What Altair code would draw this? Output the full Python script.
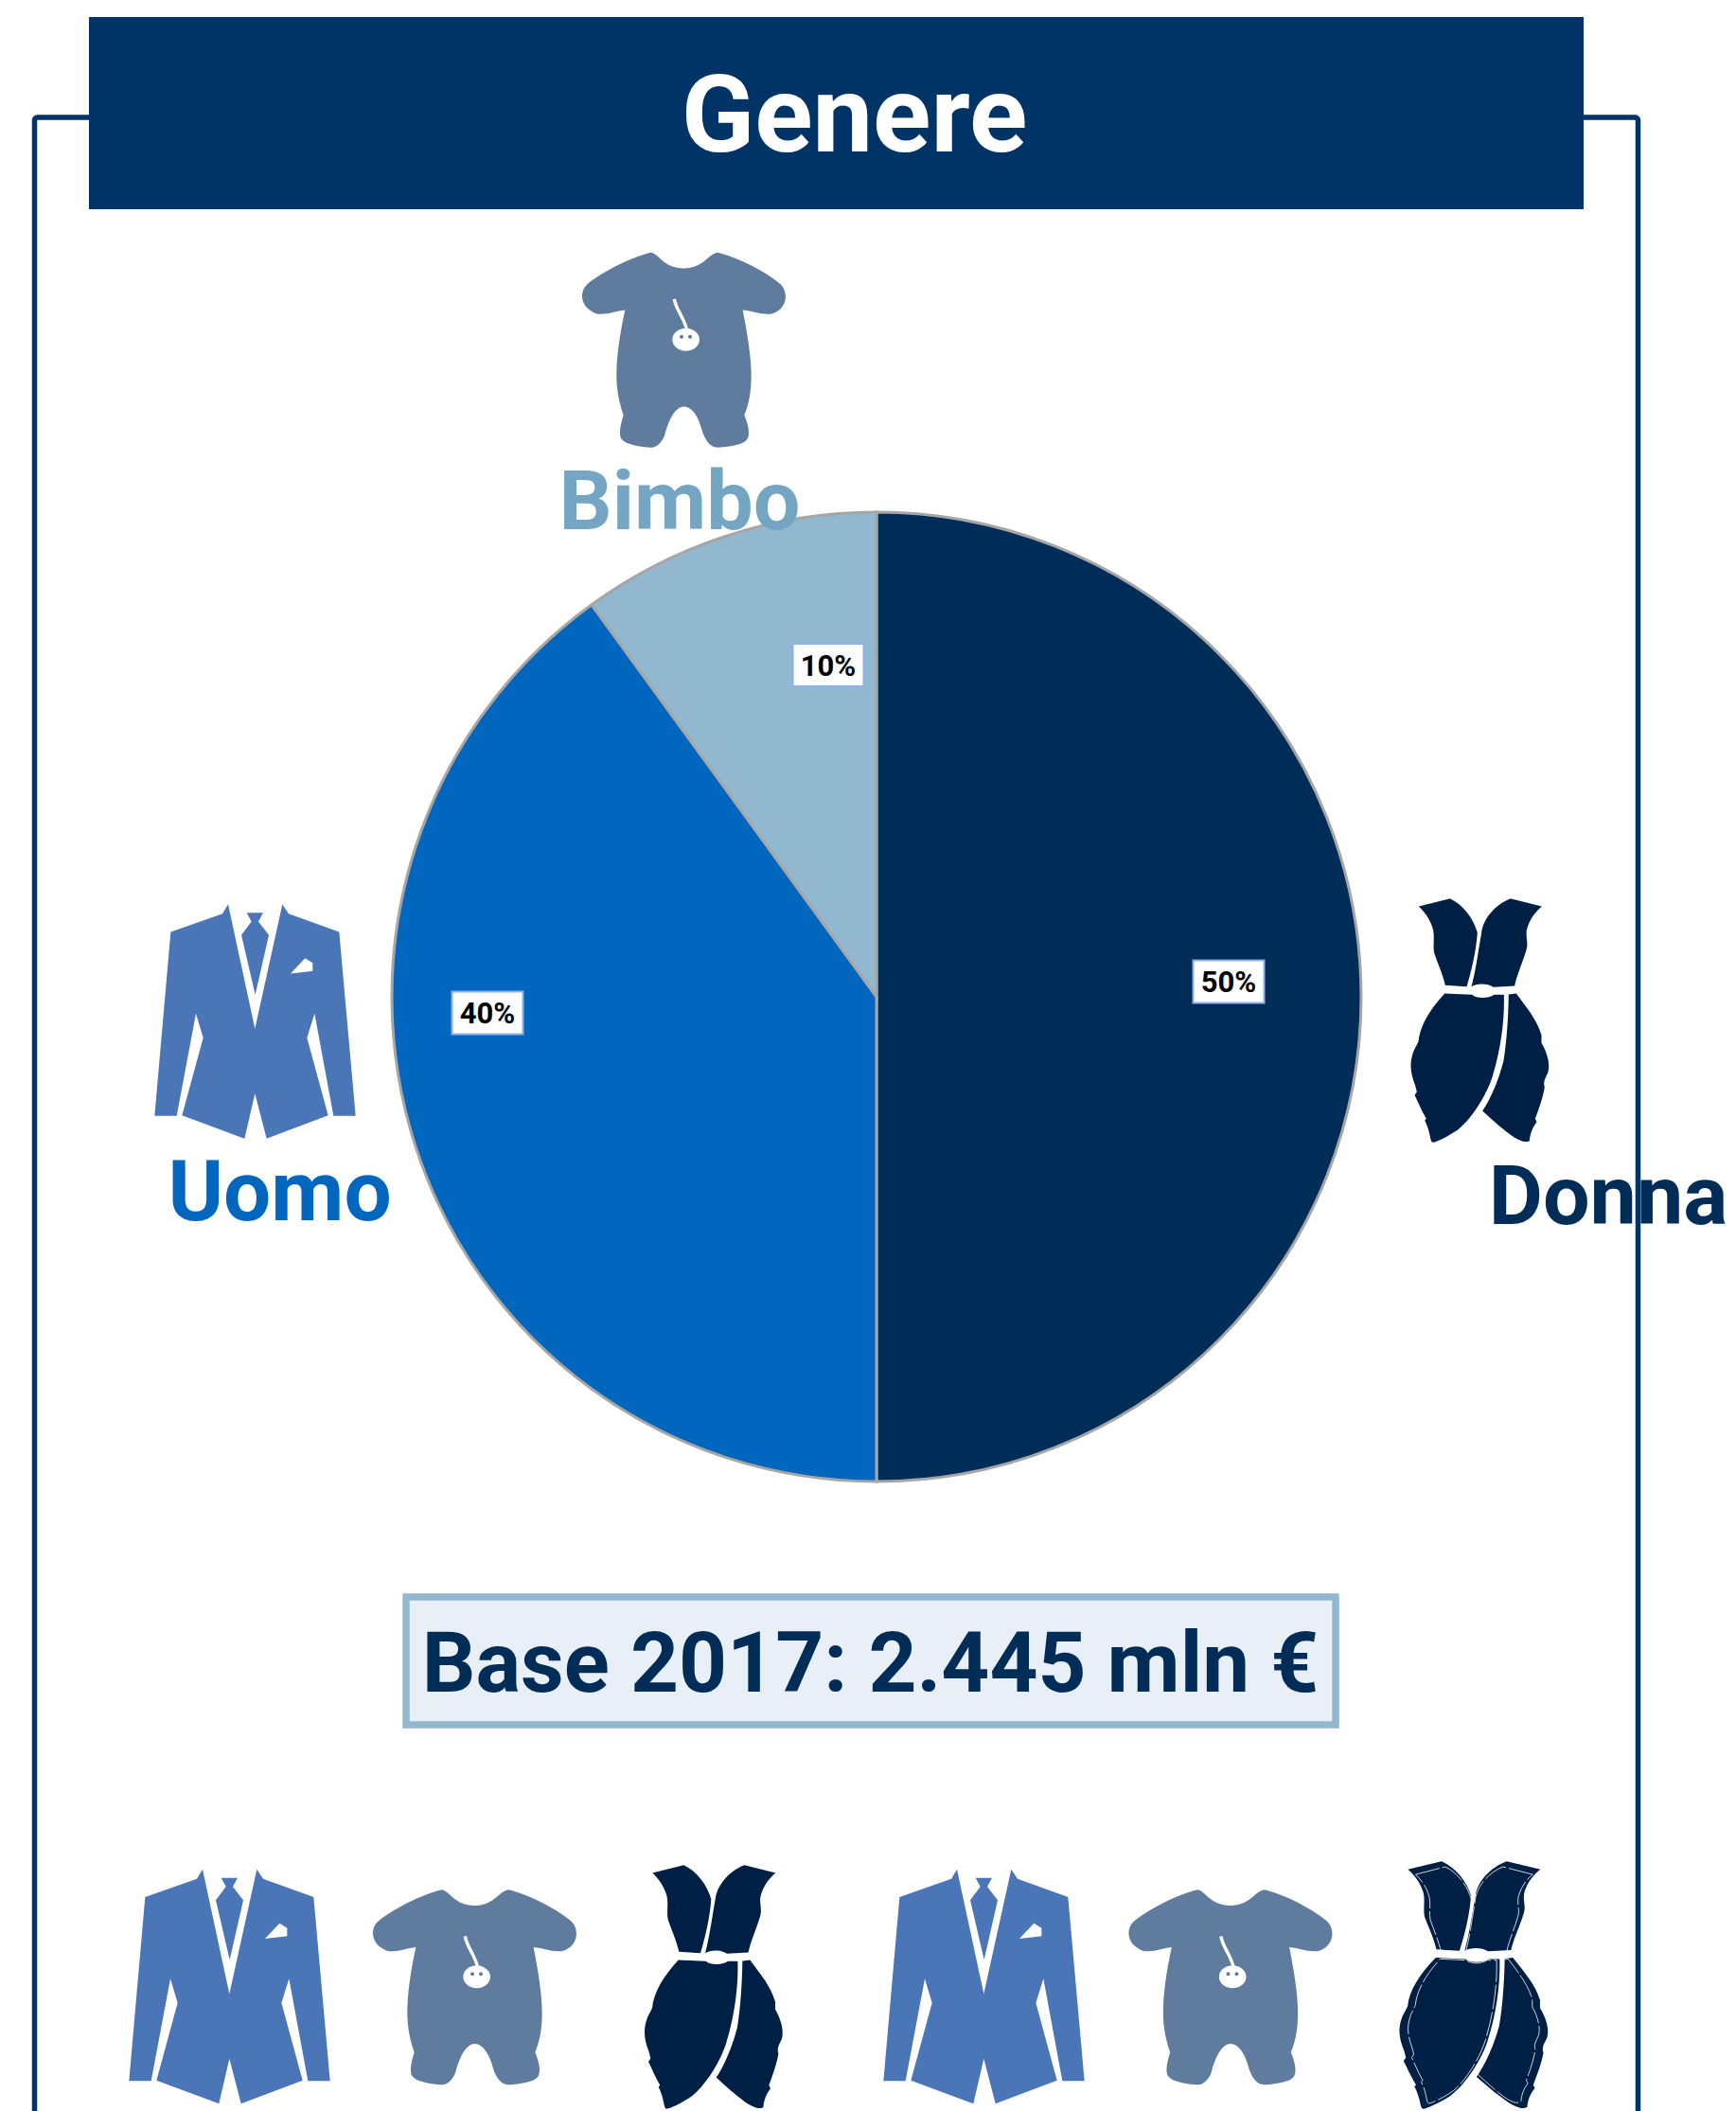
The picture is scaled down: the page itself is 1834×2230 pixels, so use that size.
import re
import altair as alt
import pandas as pd

# ---- data ----
segments = ["Donna", "Uomo", "Bimbo"]
shares = [50, 40, 10]
seg_order = [1, 2, 3]
seg_colors = ["#002D57", "#0066BE", "#92B8D0"]
pct_labels = ["50%", "40%", "10%"]
pct_x = [1298, 515, 875]
pct_y = [1037, 1070, 702.5]
pct_w = 75
pct_h = 45

FONT = "Roboto"
XD = [8, 1826]
YD = [2218, 8]
x_scale = alt.Scale(domain=XD, nice=False, zero=False)
y_scale = alt.Scale(domain=YD, nice=False, zero=False)
W = XD[1] - XD[0]
H = YD[0] - YD[1]

JACKET = "#4A76B8"
ROMPER = "#5F7C9F"
DRESS = "#001F45"
NAVY = "#003366"

# ---- icon outlines, traced in a local box ----
def norm(path, cx, cy, k, kx=1.0, D=300.0):
    nums = iter(range(100000))
    def rep(m):
        i = next(nums)
        v = float(m.group(0))
        if i % 2 == 0:
            return f"{(v - cx) * k * kx / (D / 2):.4f}"
        return f"{(v - cy) * k / (D / 2):.4f}"
    return re.sub(r"-?\d+\.?\d*", rep, path)

def ellipse(cx, cy, rx, ry):
    c = 0.5523
    return (f"M{cx-rx},{cy} C{cx-rx},{cy-ry*c} {cx-rx*c},{cy-ry} {cx},{cy-ry} "
            f"C{cx+rx*c},{cy-ry} {cx+rx},{cy-ry*c} {cx+rx},{cy} "
            f"C{cx+rx},{cy+ry*c} {cx+rx*c},{cy+ry} {cx},{cy+ry} "
            f"C{cx-rx*c},{cy+ry} {cx-rx},{cy+ry*c} {cx-rx},{cy} Z")

J_KW = dict(cx=418.5, cy=476.5, k=1/3)
jacket_body = norm("M333,105 L418,500 L505,105 L525,135 L685,193 L737,776 L667,776 L607,452 L583,528 "
                   "L650,774 L455,848 L418,705 L385,848 L187,774 L254,528 L231,452 L170,776 L100,776 "
                   "L151,193 L315,135 Z "
                   "M392,132 L444,132 L429,160 L462,203 L419,392 L375,203 L407,160 Z", **J_KW)
jacket_white = norm("M531,325 L577,276 L601,291 L601,317 Z", **J_KW)

R_KW = dict(cx=398.5, cy=358, k=1/3)
romper_body = norm("M295,50 C320,55 335,100 398,100 C460,100 475,55 505,50 C560,62 650,105 705,150 "
                   "C730,175 728,225 680,243 C650,250 620,235 585,232 C600,310 612,380 612,440 "
                   "C612,490 605,530 590,565 C600,590 610,620 600,640 C590,660 540,665 505,668 "
                   "C480,668 465,640 458,620 C450,585 430,538 398,538 C370,538 350,585 340,620 "
                   "C335,645 315,668 295,668 C260,665 215,660 200,640 C190,620 200,590 207,565 "
                   "C195,530 185,490 185,440 C185,380 195,310 212,232 C180,235 150,250 120,243 "
                   "C70,225 65,175 92,150 C150,105 240,62 295,50 Z", **R_KW)
romper_white = norm("M363,198 L373,196 C378,225 400,250 412,290 L402,292 C392,255 370,235 363,198 Z "
                    + ellipse(405, 326, 43, 36), **R_KW)
romper_dots = norm(ellipse(391, 317, 6, 6) + " " + ellipse(418, 317, 6, 6), **R_KW)

DRESS_PATH = ("M146,112 L245,87 C285,105 320,150 332,195 C328,250 315,310 298,366 L230,362 "
              "C220,320 205,290 195,260 C190,235 198,205 190,180 C180,150 165,130 146,112 Z "
              "M536,112 L437,87 C390,105 350,150 345,195 C335,250 328,310 313,366 C330,355 365,355 382,368 "
              "L450,364 C455,335 475,290 487,250 C495,225 482,205 490,180 C500,150 515,130 536,112 Z "
              "M228,388 L315,392 C330,405 365,405 385,392 L416,392 C418,460 410,550 380,650 "
              "C365,700 320,780 270,820 C240,840 205,858 190,860 C180,855 185,830 165,790 L170,785 "
              "C155,760 145,735 133,710 L140,700 L135,680 C120,640 115,610 130,570 L145,540 "
              "C150,490 180,440 228,388 Z "
              "M431,391 L455,388 C490,435 520,470 535,520 L535,545 C550,570 565,610 555,640 "
              "C545,660 540,670 545,685 C540,715 530,745 515,785 L520,795 C505,815 500,830 497,855 "
              "C480,862 470,855 450,845 C420,825 380,790 348,760 C375,720 400,660 415,600 "
              "C425,540 430,460 431,391 Z")
D_KW = dict(cx=340, cy=473.5, k=1/3)
dress_body = norm(DRESS_PATH, **D_KW)
dress_wide = norm(DRESS_PATH, cx=340, cy=473.5, k=1.015/3, kx=1.06)
dress_seam = norm(DRESS_PATH, cx=340, cy=473.5, k=0.97/3, kx=0.98)

icon_parts = {
    "jacket": [(jacket_body, JACKET), (jacket_white, "white")],
    "romper": [(romper_body, ROMPER), (romper_white, "white"), (romper_dots, ROMPER)],
    "dress": [(dress_body, DRESS)],
    "dress2": [(dress_wide, DRESS)],
}
icon_kind = ["jacket", "romper", "dress", "jacket", "romper", "dress", "jacket", "romper", "dress2"]
icon_x = [269.5, 722.5, 1563.5, 242.5, 501.5, 754, 1039.5, 1300, 1557]
icon_y = [1079, 369.5, 1078, 2098.5, 2099, 2099, 2098.5, 2099, 2097]

rows = []
for k, cx, cy in zip(icon_kind, icon_x, icon_y):
    for z, (p, c) in enumerate(icon_parts[k]):
        rows.append(dict(x=cx, y=cy, path=p, col=c, z=z))
icons = pd.DataFrame(rows)

# ---- frame ----
frame = alt.Chart(pd.DataFrame({"x": [36.5], "x2": [1730.5], "y": [124], "y2": [2300]})).mark_rect(
    fill="transparent", stroke=NAVY, strokeWidth=5.5, cornerRadius=3
).encode(x=alt.X("x:Q", scale=x_scale, axis=None), x2="x2:Q",
         y=alt.Y("y:Q", scale=y_scale, axis=None), y2="y2:Q")

header = alt.Chart(pd.DataFrame({"x": [94], "x2": [1673], "y": [18], "y2": [221]})).mark_rect(
    fill=NAVY).encode(x=alt.X("x:Q", scale=x_scale, axis=None), x2="x2:Q",
                      y=alt.Y("y:Q", scale=y_scale, axis=None), y2="y2:Q")

# ---- pie ----
pie_df = pd.DataFrame({"seg": segments, "share": shares, "ord": seg_order,
                       "x": [926] * 3, "y": [1053] * 3})
pie = alt.Chart(pie_df).mark_arc(radius=512, stroke="#A6A6A6", strokeWidth=3).encode(
    theta=alt.Theta("share:Q", stack=True),
    order=alt.Order("ord:Q"),
    color=alt.Color("seg:N", scale=alt.Scale(domain=segments, range=seg_colors), legend=None),
    x=alt.X("x:Q", scale=x_scale, axis=None),
    y=alt.Y("y:Q", scale=y_scale, axis=None),
)

# ---- percent labels ----
pct_df = pd.DataFrame({"t": pct_labels, "cx": pct_x, "cy": pct_y})
pct_df["x"] = pct_df.cx - pct_w / 2
pct_df["x2"] = pct_df.cx + pct_w / 2
pct_df["y"] = pct_df.cy - pct_h / 2
pct_df["y2"] = pct_df.cy + pct_h / 2
pct_df["by"] = pct_df.cy + 11
pct_box = alt.Chart(pct_df).mark_rect(fill="white", stroke="#8DB0E6", strokeWidth=2).encode(
    x=alt.X("x:Q", scale=x_scale, axis=None), x2="x2:Q",
    y=alt.Y("y:Q", scale=y_scale, axis=None), y2="y2:Q")
pct_txt = alt.Chart(pct_df).mark_text(font=FONT, fontWeight="bold", fontSize=31, align="center",
                                      baseline="alphabetic", color="black").encode(
    x=alt.X("cx:Q", scale=x_scale, axis=None), y=alt.Y("by:Q", scale=y_scale, axis=None), text="t:N")

# ---- big text ----
def big(text, x, y, size, color):
    return alt.Chart(pd.DataFrame({"t": [text], "x": [x], "y": [y]})).mark_text(
        font=FONT, fontWeight="bold", fontSize=size, align="center", baseline="alphabetic", color=color
    ).encode(x=alt.X("x:Q", scale=x_scale, axis=None), y=alt.Y("y:Q", scale=y_scale, axis=None), text="t:N")

t_genere = big("Genere", 902.5, 160, 113.5, "white")
t_bimbo = big("Bimbo", 718, 559, 88, "#74A6C4")
t_uomo = big("Uomo", 295.5, 1289, 89, "#0066BE")
t_donna = big("Donna", 1699, 1293, 88, "#002D57")

base_box = alt.Chart(pd.DataFrame({"x": [429], "x2": [1411], "y": [1687], "y2": [1822]})).mark_rect(
    fill="#E8EFF7", stroke="#92B8D0", strokeWidth=7.5).encode(
    x=alt.X("x:Q", scale=x_scale, axis=None), x2="x2:Q",
    y=alt.Y("y:Q", scale=y_scale, axis=None), y2="y2:Q")
t_base = big("Base 2017: 2.445 mln €", 919.5, 1787, 89, "#002D57")

# ---- icons ----
D = 300
icon_layers = []
for z in range(3):
    sub = icons[icons.z == z]
    icon_layers.append(
        alt.Chart(sub).mark_point(filled=True, opacity=1, strokeWidth=0).encode(
            x=alt.X("x:Q", scale=x_scale, axis=None),
            y=alt.Y("y:Q", scale=y_scale, axis=None),
            shape=alt.Shape("path:N", scale=None),
            color=alt.Color("col:N", scale=None),
            size=alt.value(D * D),
        )
    )

seam = alt.Chart(pd.DataFrame({"x": [1557], "y": [2097], "path": [dress_seam]})).mark_point(
    filled=False, opacity=1, stroke="white", strokeWidth=0.8, strokeDash=[26, 3]
).encode(
    x=alt.X("x:Q", scale=x_scale, axis=None),
    y=alt.Y("y:Q", scale=y_scale, axis=None),
    shape=alt.Shape("path:N", scale=None),
    size=alt.value(D * D),
)

chart = alt.layer(
    t_donna, frame, header, t_genere, pie, pct_box, pct_txt, t_bimbo, t_uomo,
    base_box, t_base, *icon_layers, seam
).properties(width=W, height=H, padding=0, background="white").configure_view(stroke=None)

chart.save("out.html", embed_options={"renderer": "svg", "actions": False})
